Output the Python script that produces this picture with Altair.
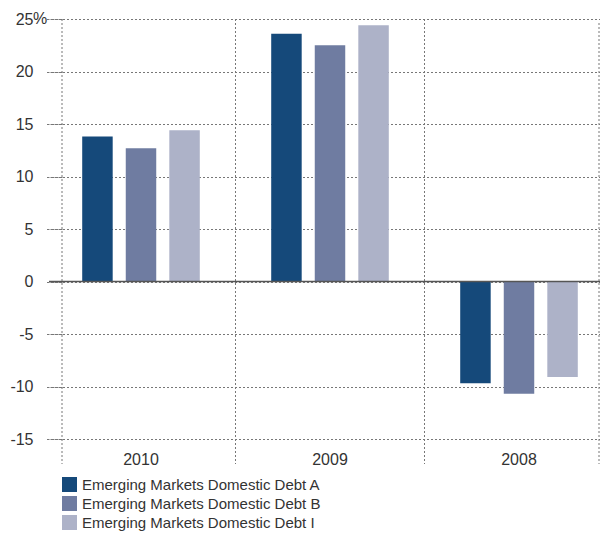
import altair as alt
import pandas as pd

years = ["2010", "2009", "2008"]
series = [
    "Emerging Markets Domestic Debt A",
    "Emerging Markets Domestic Debt B",
    "Emerging Markets Domestic Debt I",
]
values_a = [13.8, 23.6, -9.7]
values_b = [12.7, 22.5, -10.7]
values_i = [14.4, 24.4, -9.1]
colors = ["#15497a", "#6f7ca1", "#adb2c8"]
y_ticks = [-15, -10, -5, 0, 5, 10, 15, 20, 25]
inner_edges = ["2009", "2008"]

rows = []
for s, vals in zip(series, [values_a, values_b, values_i]):
    for yr, v in zip(years, vals):
        rows.append({"year": yr, "series": s, "value": v})
df = pd.DataFrame(rows)

FONT = "Liberation Sans, Arial, sans-serif"
GRID = "#777777"
TEXT = "#333333"

W, H = 538, 420
yscale = alt.Scale(domain=[-15, 25], nice=False, zero=False)
xscale = alt.Scale(domain=years, range=[-15.5, 551.5], paddingInner=0, paddingOuter=0)
xaxis = alt.Axis(
    title=None,
    ticks=False,
    grid=False,
    domain=False,
    labelAngle=0,
    labelPadding=12,
    labelFont=FONT,
    labelFontSize=16,
    labelColor=TEXT,
)

bars = alt.Chart(df).mark_bar().encode(
    x=alt.X("year:N", sort=years, scale=xscale, axis=xaxis),
    xOffset=alt.XOffset(
        "series:N", sort=series, scale=alt.Scale(paddingInner=0.3, paddingOuter=0.82)
    ),
    y=alt.Y(
        "value:Q",
        scale=yscale,
        axis=alt.Axis(
            title=None,
            values=y_ticks,
            labelExpr="toString(datum.value)",
            tickSize=13,
            tickDash=[2, 2],
            tickColor=GRID,
            grid=True,
            gridDash=[2, 2],
            gridColor=GRID,
            domain=False,
            labelPadding=16,
            labelFont=FONT,
            labelFontSize=16,
            labelColor=TEXT,
        ),
    ),
    color=alt.Color(
        "series:N",
        sort=series,
        scale=alt.Scale(domain=series, range=colors),
        legend=alt.Legend(
            title=None,
            orient="none",
            legendX=0,
            legendY=458,
            direction="vertical",
            symbolType="square",
            symbolSize=225,
            symbolStrokeWidth=0,
            symbolOpacity=1,
            labelFont=FONT,
            labelFontSize=15,
            labelColor=TEXT,
            labelOffset=5,
            labelLimit=500,
            rowPadding=3,
        ),
    ),
)

# vertical dotted separators between year groups (at band starts)
seps = alt.Chart(pd.DataFrame({"year": inner_edges})).mark_rule(
    color=GRID, strokeDash=[2, 2], strokeWidth=1
).encode(
    x=alt.X("year:N", sort=years, scale=xscale, bandPosition=0, axis=xaxis),
    y=alt.value(0),
    y2=alt.value(H + 25),
)

# frame edges (left / right) extending below the plot like the separators
left_edge = alt.Chart(pd.DataFrame({"k": [0]})).mark_rule(
    color=GRID, strokeDash=[2, 2], strokeWidth=1
).encode(x=alt.value(0), y=alt.value(0), y2=alt.value(H + 25))
right_edge = alt.Chart(pd.DataFrame({"k": [0]})).mark_rule(
    color=GRID, strokeDash=[2, 2], strokeWidth=1
).encode(x=alt.value(W - 1), y=alt.value(4), y2=alt.value(H + 25))

zero = alt.Chart(pd.DataFrame({"v": [0]})).mark_rule(
    color="#555555", strokeWidth=1.5
).encode(y=alt.Y("v:Q", scale=yscale), x=alt.value(-13), x2=alt.value(W))

pct = alt.Chart(pd.DataFrame({"v": [25], "t": ["%"]})).mark_text(
    align="left", baseline="middle", font=FONT, fontSize=16, color=TEXT
).encode(y=alt.Y("v:Q", scale=yscale), x=alt.value(-29), text="t:N")

chart = (
    alt.layer(left_edge, right_edge, seps, bars, zero, pct)
    .properties(
        width=W,
        height=H,
        autosize=alt.AutoSizeParams(type="none"),
        padding={"left": 54, "top": 11, "right": 0, "bottom": 93},
    )
    .configure_view(stroke=None)
)

chart.save("out.html", embed_options={"renderer": "svg", "actions": False})
